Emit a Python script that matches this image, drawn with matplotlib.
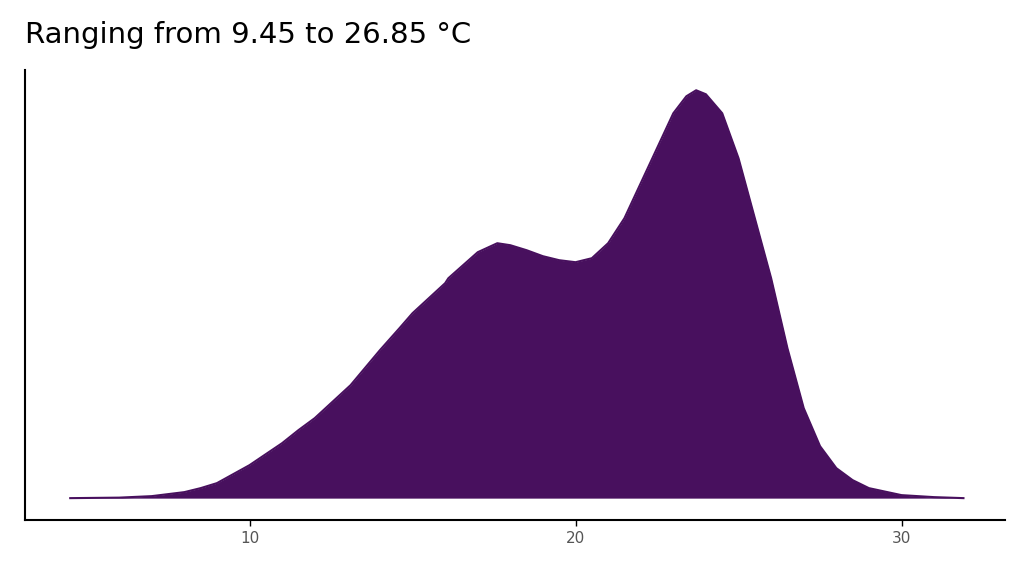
import numpy as np
import matplotlib
matplotlib.use("Agg")
from matplotlib import pyplot as plt

# density curve (height in arbitrary units)
temp = [4.5, 6, 7, 8, 8.5, 9, 10, 11, 11.5, 12, 13, 13.1, 14, 14.6, 15, 16, 16.1, 17, 17.6, 18, 18.5, 19,
        19.5, 20, 20.5, 21, 21.5, 22, 22.5, 23, 23.4, 23.7, 24, 24.5, 25, 25.6, 26, 26.5, 27, 27.5, 28, 28.5,
        29, 30, 31, 31.9]
dens = [0, 0.5, 2, 6, 10, 15, 33, 55, 68, 80, 110, 113, 148, 170, 185, 215, 220, 246, 255, 253, 248, 242,
        238, 236, 240, 255, 280, 315, 350, 385, 402, 408, 404, 385, 340, 268, 220, 150, 90, 52, 30, 18,
        10, 3, 1, 0]
xticks = [10, 20, 30]
title = "Ranging from 9.45 to 26.85 °C"
colour = "#48105e"

fig = plt.figure(figsize=(10.24, 5.76), dpi=100)
ax = fig.add_axes([0.024, 0.097, 0.957, 0.781])
ax.fill_between(temp, dens, 0, color=colour, linewidth=0)
ax.plot(temp, dens, color=colour, linewidth=1.5)
ax.set_xlim(3.1, 33.16)
ax.set_ylim(-22, 428)
ax.set_xticks(xticks)
ax.set_yticks([])
ax.tick_params(axis="x", colors="#555555", labelsize=11, length=4, width=1)
ax.tick_params(axis="x", color="black")
for s in ["top", "right"]:
    ax.spines[s].set_visible(False)
for s in ["left", "bottom"]:
    ax.spines[s].set_linewidth(1.5)
fig.text(0.024, 0.94, title, fontsize=21, ha="left", va="center")
fig.savefig("out.png", dpi=100)
